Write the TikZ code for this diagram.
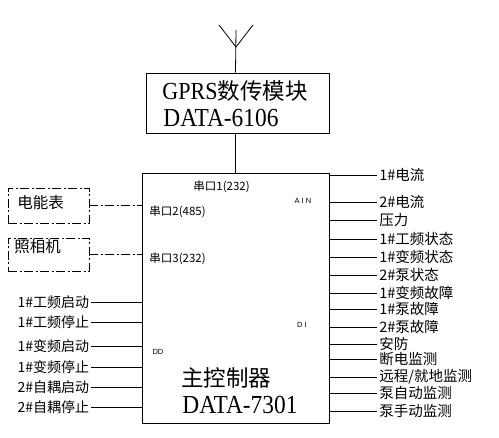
\documentclass[tikz,border=0pt]{standalone}
\usepackage{fontspec}
\setmainfont{Noto Sans CJK SC}
\newfontfamily\lat[FakeStretch=0.9]{Liberation Serif}
\newfontfamily\smallsans{Liberation Sans}
\begin{document}
\begin{tikzpicture}[x=1pt,y=-1pt,line width=0.8pt,
  box/.style={draw,rectangle,inner sep=0pt,line width=0.9pt},
  ddash/.style={dash pattern=on 9pt off 2.5pt on 2pt off 2.5pt},
  big/.style={inner sep=0pt,anchor=west,font=\fontsize{22.5}{22}\selectfont},
  latbig/.style={inner sep=0pt,anchor=west,font=\lat\fontsize{26}{26}\selectfont},
  rlbl/.style={inner xsep=2pt,inner ysep=0pt,anchor=west,font=\fontsize{14.5}{15}\selectfont},
  llbl/.style={inner xsep=1.5pt,inner ysep=0pt,anchor=east,font=\fontsize{14}{15}\selectfont},
  port/.style={inner sep=0pt,anchor=west,font=\fontsize{11.5}{11.5}\selectfont},
  tiny/.style={inner sep=0pt,font=\smallsans\fontsize{7.5}{8}\selectfont}]
\useasboundingbox (0,0) rectangle (499,438);
\fill[white] (0,0) rectangle (499,438);
% boxes
\node[box,minimum width=187pt,minimum height=250pt] (main) at (235.5,298) {};
\node[box,minimum width=183pt,minimum height=60pt] (gprs) at (237.5,103) {};
\draw (main.north) -- (main.north |- gprs.south);
% antenna
\coordinate (ant) at (236,47);
\coordinate (antt) at (236,30);
\coordinate (antl) at (219,25);
\coordinate (antr) at (253,25);
\draw (main.north |- gprs.north) -- (antt);
\draw (antl) -- (ant) -- (antr);
% GPRS texts
\node[big] (g1) at (162,91) {{\lat\fontsize{24.5}{24}\selectfont GPRS}数传模块};
\node[latbig] (g2) at (163,118) {DATA-6106};
% main texts
\node[big] (m1) at (181,378) {主控制器};
\node[latbig] (m2) at (182,405) {DATA-7301};
% ports
\node[port] (p1) at (193,187) {串口1(232)};
\node[port] (p2) at (149,212) {串口2(485)};
\node[port] (p3) at (149,259) {串口3(232)};
\node[tiny] (ain) at (303,201) {A I N};
\node[tiny] (di) at (302,325) {D I};
\node[tiny] (dd) at (158,352) {DD};
% dashed side boxes
\node[box,ddash,minimum width=81pt,minimum height=35pt] (meter) at (48.5,205.5) {};
\node[inner sep=0pt,anchor=west,font=\fontsize{15.5}{15}\selectfont] (metert) at (17,203) {电能表};
\node[box,ddash,minimum width=81pt,minimum height=33pt] (cam) at (48.5,254.5) {};
\node[inner sep=0pt,anchor=west,font=\fontsize{15.5}{15}\selectfont] (camt) at (14,247) {照相机};
\draw[ddash] (meter.east) -- (meter.east -| main.west);
\draw[ddash] (cam.east) -- (cam.east -| main.west);
% right labels
\foreach \n/\yy/\t in {r1/175/{1\#电流}, r2/202/{2\#电流}, r3/220/{压力}, r4/239/{1\#工频状态},
  r5/257/{1\#变频状态}, r6/275/{2\#泵状态}, r7/293/{1\#变频故障}, r8/309/{1\#泵故障},
  r9/327/{2\#泵故障}, r10/344/{安防}, r11/359/{断电监测}, r12/377/{远程/就地监测},
  r13/393/{泵自动监测}, r14/411/{泵手动监测}}{
  \node[rlbl] (\n) at (377,\yy) {\t};
  \draw (main.east |- \n.west) -- (\n.west);
}
% left labels
\foreach \n/\yy/\t in {l1/302/{1\#工频启动}, l2/322/{1\#工频停止}, l3/346/{1\#变频启动},
  l4/367/{1\#变频停止}, l5/387/{2\#自耦启动}, l6/407/{2\#自耦停止}}{
  \node[llbl] (\n) at (91,\yy) {\t};
  \draw (\n.east) -- (main.west |- \n.east);
}
\end{tikzpicture}
\end{document}
